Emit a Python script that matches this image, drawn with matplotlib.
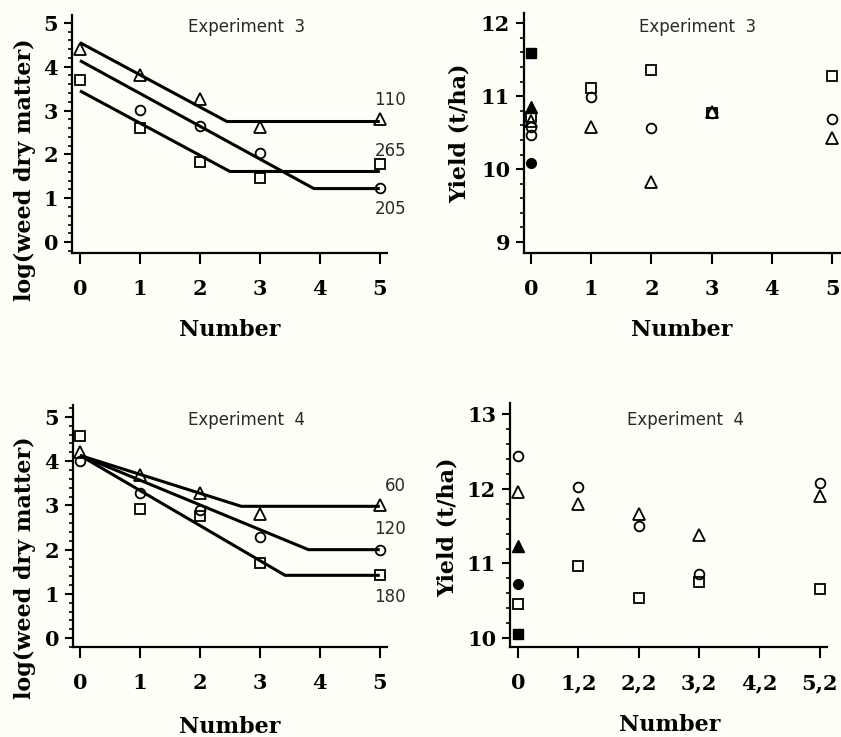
import matplotlib
matplotlib.use("Agg")
import matplotlib.pyplot as plt
from matplotlib.ticker import MultipleLocator

# ---------------- data ----------------
# Experiment 3: log(weed dry matter)
e3w_tri_x = [0, 1, 2, 3, 5]
e3w_tri_y = [4.40, 3.80, 3.26, 2.63, 2.80]
e3w_circ_x = [1, 2, 3, 5]
e3w_circ_y = [3.01, 2.64, 2.03, 1.23]
e3w_sq_x = [0, 1, 2, 3, 5]
e3w_sq_y = [3.69, 2.60, 1.82, 1.47, 1.77]
# fitted linear-plateau lines (x, y at start, breakpoint, end)
e3_fit110_x = [0, 2.45, 5]
e3_fit110_y = [4.55, 2.75, 2.75]
e3_fit205_x = [0, 3.9, 5]
e3_fit205_y = [4.14, 1.22, 1.22]
e3_fit265_x = [0, 2.5, 5]
e3_fit265_y = [3.45, 1.61, 1.61]
e3_fit_labels = ["110", "265", "205"]
e3_fit_label_y = [3.24, 2.08, 0.76]

# Experiment 3: yield
e3y_sq_x = [0, 1, 2, 3, 5]
e3y_sq_y = [10.72, 11.11, 11.36, 10.77, 11.27]
e3y_circ_x = [0, 0, 1, 2, 3, 5]
e3y_circ_y = [10.58, 10.47, 10.99, 10.57, 10.77, 10.69]
e3y_tri_x = [0, 1, 2, 3, 5]
e3y_tri_y = [10.66, 10.58, 9.82, 10.78, 10.42]
e3y_ctrl_sq = 11.59
e3y_ctrl_tri = 10.85
e3y_ctrl_circ = 10.08

# Experiment 4: log(weed dry matter)
e4w_tri_x = [0, 1, 2, 3, 5]
e4w_tri_y = [4.21, 3.68, 3.27, 2.80, 3.02]
e4w_circ_x = [0, 1, 2, 3, 5]
e4w_circ_y = [4.00, 3.28, 2.89, 2.29, 2.00]
e4w_sq_x = [0, 1, 2, 3, 5]
e4w_sq_y = [4.57, 2.93, 2.76, 1.70, 1.42]
e4_fit60_x = [0, 2.69, 5]
e4_fit60_y = [4.13, 2.98, 2.98]
e4_fit120_x = [0, 3.81, 5]
e4_fit120_y = [4.13, 2.00, 2.00]
e4_fit180_x = [0, 3.42, 5]
e4_fit180_y = [4.13, 1.42, 1.42]
e4_fit_labels = ["60", "120", "180"]
e4_fit_label_y = [3.43, 2.47, 0.93]

# Experiment 4: yield
e4y_x_ticklabels = ["0", "1,2", "2,2", "3,2", "4,2", "5,2"]
e4y_circ_x = [0, 1, 2, 3, 5]
e4y_circ_y = [12.44, 12.02, 11.50, 10.86, 12.08]
e4y_tri_x = [0, 1, 2, 3, 5]
e4y_tri_y = [11.96, 11.80, 11.66, 11.38, 11.90]
e4y_sq_x = [0, 1, 2, 3, 5]
e4y_sq_y = [10.45, 10.96, 10.54, 10.75, 10.66]
e4y_ctrl_tri = 11.24
e4y_ctrl_circ = 10.72
e4y_ctrl_sq = 10.06

# ---------------- style ----------------
BG = "#fefef6"
SERIF = ["DejaVu Serif"]
ANN = ["DejaVu Sans"]
tick_fs = 15
lab_fs = 16
ann_fs = 12
ANN_COL = "#2a2a2a"

fig = plt.figure(figsize=(8.41, 7.37), dpi=100, facecolor=BG)


def add_axes(px_left, px_right, px_top, px_bottom):
    W, H = 841.0, 737.0
    return fig.add_axes([px_left / W, 1 - px_bottom / H,
                         (px_right - px_left) / W, (px_bottom - px_top) / H],
                        facecolor=BG)


def style(ax, xlim, ylim, yticks, xticklabels=None):
    ax.set_xlim(*xlim)
    ax.set_ylim(*ylim)
    for s in ["top", "right"]:
        ax.spines[s].set_visible(False)
    for s in ["left", "bottom"]:
        ax.spines[s].set_linewidth(1.6)
    ax.set_xticks(range(6))
    if xticklabels is not None:
        ax.set_xticklabels(xticklabels)
    ax.set_yticks(yticks)
    ax.yaxis.set_minor_locator(MultipleLocator(0.2))
    ax.tick_params(axis="x", direction="out", length=8, width=1.5, pad=11,
                   labelsize=tick_fs)
    ax.tick_params(axis="y", which="major", direction="out", length=6,
                   width=1.5, pad=4, labelsize=tick_fs)
    ax.tick_params(axis="y", which="minor", direction="out", length=3,
                   width=1.2)
    for lab in ax.get_xticklabels() + ax.get_yticklabels():
        lab.set_family(SERIF)
        lab.set_fontweight("bold")


def labels(ax, ylabel, xl_coords, yl_coords):
    ax.set_xlabel("Number", fontsize=lab_fs, fontweight="bold",
                  family=SERIF, va="center")
    ax.set_ylabel(ylabel, fontsize=lab_fs, fontweight="bold",
                  family=SERIF, va="center")
    ax.xaxis.set_label_coords(*xl_coords)
    ax.yaxis.set_label_coords(*yl_coords)


mk = dict(linestyle="none", markerfacecolor="none", markeredgecolor="black",
          markeredgewidth=1.3, clip_on=False, zorder=3)
TRI = dict(marker="^", markersize=8.5)
CIR = dict(marker="o", markersize=7)
SQU = dict(marker="s", markersize=7.5)
fill = dict(linestyle="none", color="black", clip_on=False, zorder=4)

# ---------------- panel 1: Exp 3 weeds ----------------
ax1 = add_axes(72, 387, 15, 253)
style(ax1, (-0.133, 5.12), (-0.25, 5.18), range(0, 6))
for fx, fy in [(e3_fit110_x, e3_fit110_y), (e3_fit205_x, e3_fit205_y),
               (e3_fit265_x, e3_fit265_y)]:
    ax1.plot(fx, fy, color="black", lw=2.2, solid_capstyle="butt", zorder=2)
ax1.plot(e3w_tri_x, e3w_tri_y, **TRI, **mk)
ax1.plot(e3w_circ_x, e3w_circ_y, **CIR, **mk)
ax1.plot(e3w_sq_x, e3w_sq_y, **SQU, **mk)
for t, y in zip(e3_fit_labels, e3_fit_label_y):
    ax1.text(5.44, y, t, ha="right", va="center", fontsize=ann_fs,
             family=ANN, color=ANN_COL)
ax1.text(2.77, 4.91, "Experiment  3", ha="center", va="center",
         fontsize=ann_fs, family=ANN, color=ANN_COL)
labels(ax1, "log(weed dry matter)", (0.5, -0.324), (-0.149, 0.35))

# ---------------- panel 2: Exp 3 yield ----------------
ax2 = add_axes(524, 840, 13, 253)
style(ax2, (-0.116, 5.13), (8.85, 12.14), range(9, 13))
ax2.plot(e3y_sq_x, e3y_sq_y, **SQU, **mk)
ax2.plot(e3y_circ_x, e3y_circ_y, **CIR, **mk)
ax2.plot(e3y_tri_x, e3y_tri_y, **TRI, **mk)
ax2.plot([0], [e3y_ctrl_sq], marker="s", markersize=7.5, **fill)
ax2.plot([0], [e3y_ctrl_tri], marker="^", markersize=8.5, **fill)
ax2.plot([0], [e3y_ctrl_circ], marker="o", markersize=7, **fill)
ax2.text(2.77, 11.95, "Experiment  3", ha="center", va="center",
         fontsize=ann_fs, family=ANN, color=ANN_COL)
labels(ax2, "Yield (t/ha)", (0.5, -0.32), (-0.203, 0.5))

# ---------------- panel 3: Exp 4 weeds ----------------
ax3 = add_axes(73, 387, 405, 647)
style(ax3, (-0.117, 5.12), (-0.20, 5.27), range(0, 6))
for fx, fy in [(e4_fit60_x, e4_fit60_y), (e4_fit120_x, e4_fit120_y),
               (e4_fit180_x, e4_fit180_y)]:
    ax3.plot(fx, fy, color="black", lw=2.2, solid_capstyle="butt", zorder=2)
ax3.plot(e4w_tri_x, e4w_tri_y, **TRI, **mk)
ax3.plot(e4w_circ_x, e4w_circ_y, **CIR, **mk)
ax3.plot(e4w_sq_x, e4w_sq_y, **SQU, **mk)
for t, y in zip(e4_fit_labels, e4_fit_label_y):
    ax3.text(5.44, y, t, ha="right", va="center", fontsize=ann_fs,
             family=ANN, color=ANN_COL)
ax3.text(2.77, 4.93, "Experiment  4", ha="center", va="center",
         fontsize=ann_fs, family=ANN, color=ANN_COL)
labels(ax3, "log(weed dry matter)", (0.5, -0.33), (-0.153, 0.326))

# ---------------- panel 4: Exp 4 yield ----------------
ax4 = add_axes(510, 827, 403, 647)
style(ax4, (-0.13, 5.12), (9.88, 13.15), range(10, 14), e4y_x_ticklabels)
ax4.plot(e4y_circ_x, e4y_circ_y, **CIR, **mk)
ax4.plot(e4y_tri_x, e4y_tri_y, **TRI, **mk)
ax4.plot(e4y_sq_x, e4y_sq_y, **SQU, **mk)
ax4.plot([0], [e4y_ctrl_tri], marker="^", markersize=8.5, **fill)
ax4.plot([0], [e4y_ctrl_circ], marker="o", markersize=7, **fill)
ax4.plot([0], [e4y_ctrl_sq], marker="s", markersize=7.5, **fill)
ax4.text(2.78, 12.92, "Experiment  4", ha="center", va="center",
         fontsize=ann_fs, family=ANN, color=ANN_COL)
labels(ax4, "Yield (t/ha)", (0.505, -0.32), (-0.196, 0.49))

fig.savefig("out.png", dpi=100, facecolor=BG)
